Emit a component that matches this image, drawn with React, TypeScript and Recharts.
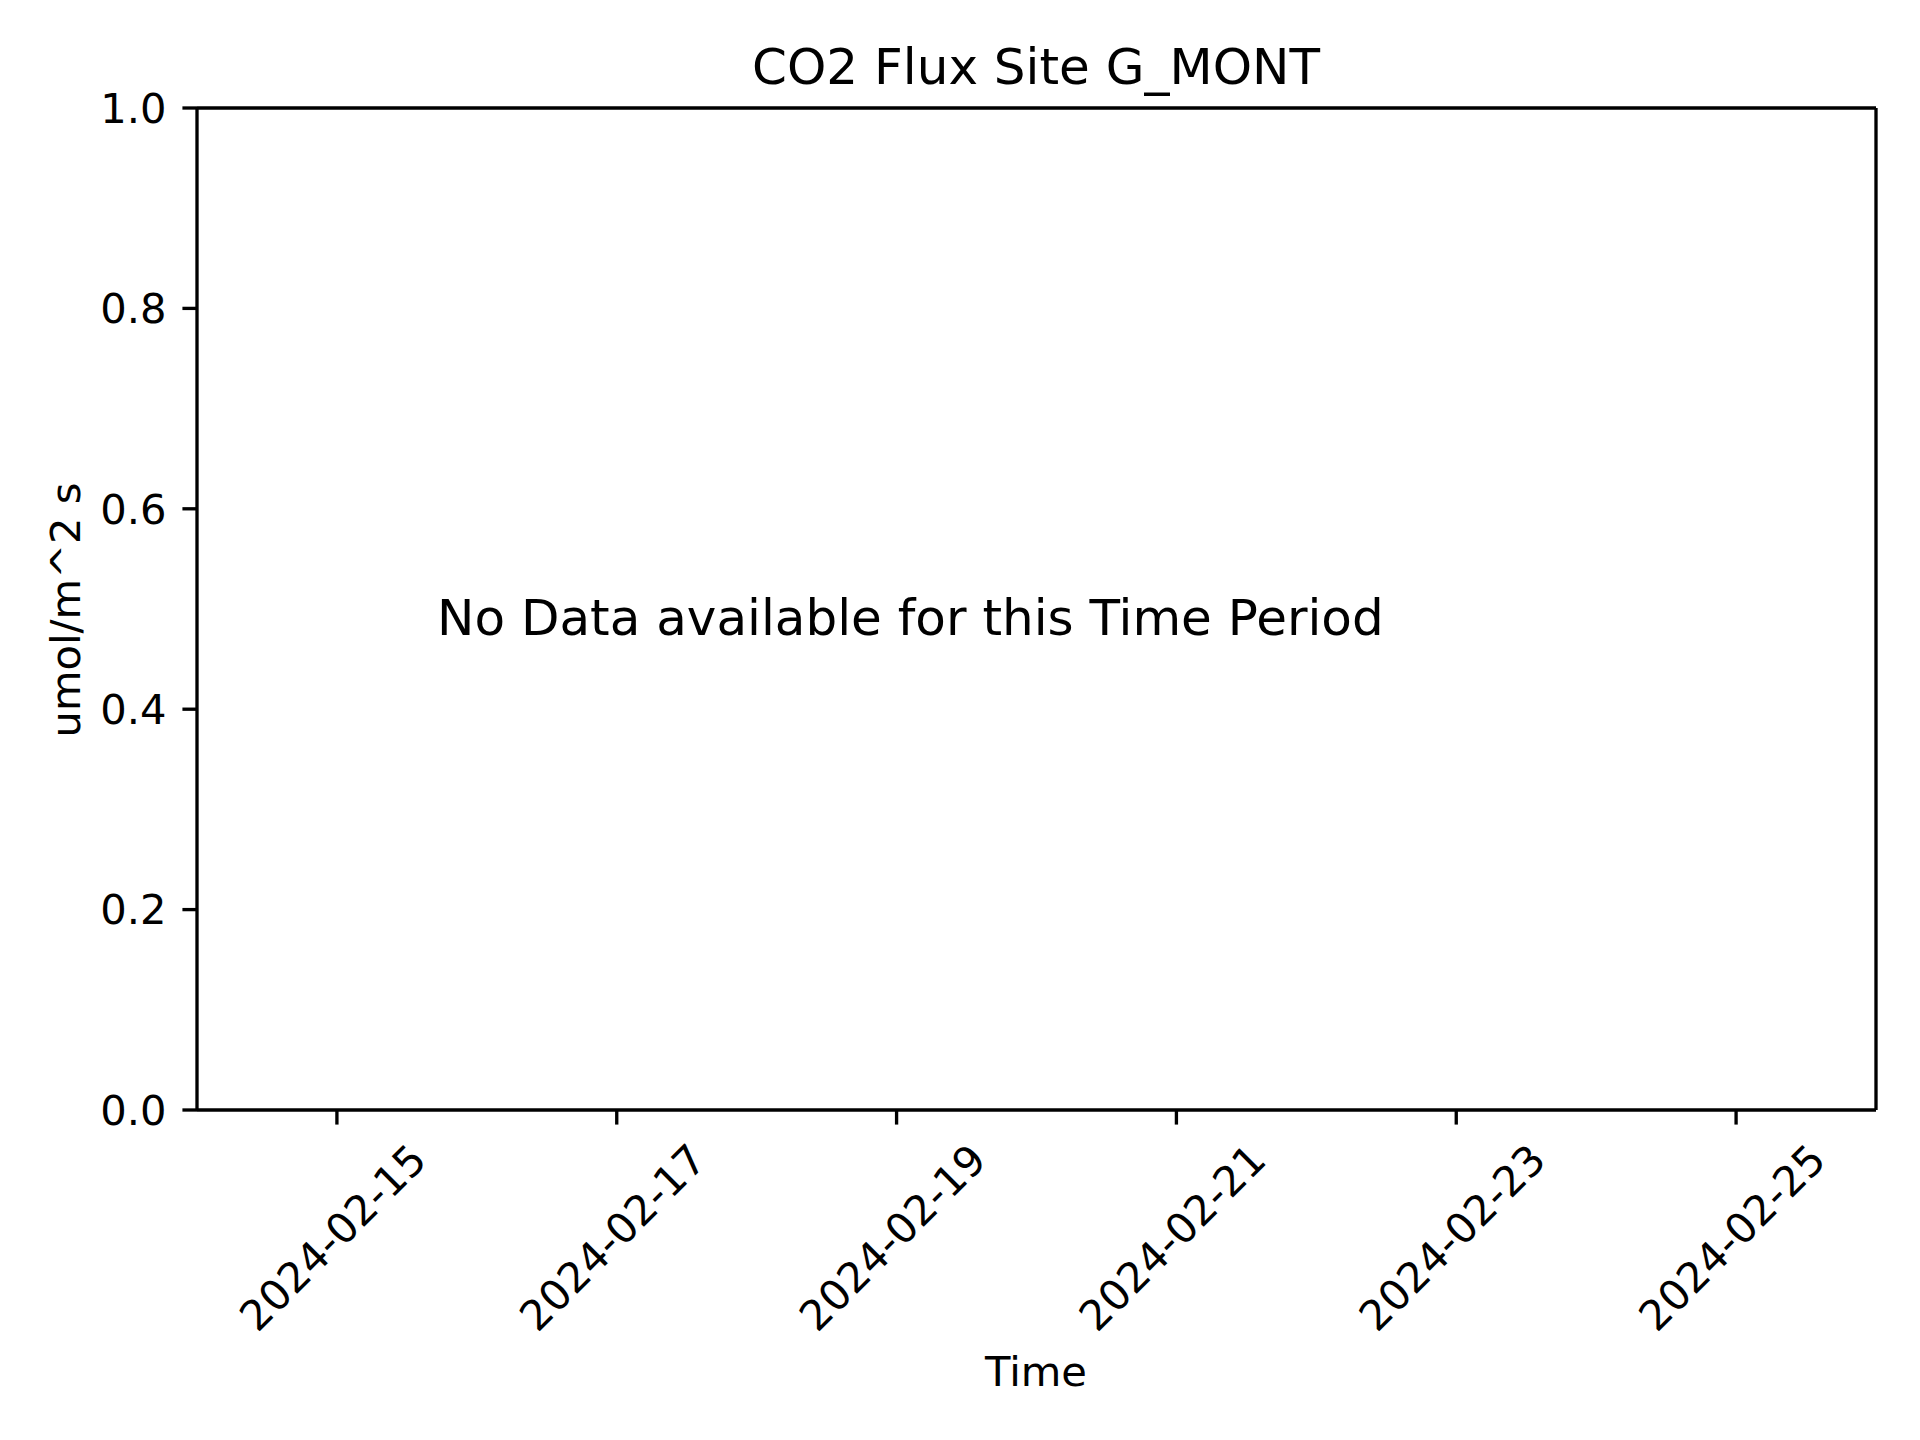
import { Customized, Line, LineChart, ReferenceLine, XAxis, YAxis } from 'recharts';

// Site G_MONT has no flux records for this window, so the series is all nulls
const startDate = Date.UTC(2024, 1, 14);
const endDate = Date.UTC(2024, 1, 26);

const tickDates = ['2024-02-15', '2024-02-17', '2024-02-19', '2024-02-21', '2024-02-23', '2024-02-25'];
const yTicks = [0, 0.2, 0.4, 0.6, 0.8, 1.0];
const fluxValues: (number | null)[] = [null, null, null, null, null, null];

const toTime = (s: string) => Date.parse(s + 'T00:00:00Z');

const data = tickDates.map((d, i) => ({ t: toTime(d), flux: fluxValues[i] }));

const W = 1920;
const H = 1440;
const PT = 300 / 72; // matplotlib figure at 300 dpi
const FONT = 'DejaVu Sans, sans-serif';
const LW = 0.8 * PT;

const axisLine = { stroke: '#000', strokeWidth: LW };

const XTick = (props: any) => {
  const { x, y, payload } = props;
  const d = new Date(payload.value).toISOString().slice(0, 10);
  const cx = x - 4;
  const cy = y + 113;
  return (
    <text
      x={cx}
      y={cy}
      textAnchor="middle"
      dominantBaseline="central"
      transform={`rotate(-45 ${cx} ${cy})`}
      fontFamily={FONT}
      fontSize={10 * PT}
      fill="#000"
    >
      {d}
    </text>
  );
};

const Texts = () => (
  <g fontFamily={FONT} fill="#000">
    <text x={1036} y={84} textAnchor="middle" fontSize={12 * PT}>
      CO2 Flux Site G_MONT
    </text>
    <text x={1036} y={1386} textAnchor="middle" fontSize={10 * PT}>
      Time
    </text>
    <text x={80} y={610} textAnchor="middle" fontSize={10 * PT} transform="rotate(-90 80 610)">
      umol/m^2 s
    </text>
    <text x={437} y={635} textAnchor="start" fontSize={12 * PT}>
      No Data available for this Time Period
    </text>
  </g>
);

export default function App() {
  return (
    <div style={{ width: W, height: H, margin: -8, background: '#fff' }}>
      <LineChart width={W} height={H} data={data} margin={{ top: 108, right: 44, bottom: 80, left: 77 }}>
        <XAxis
          dataKey="t"
          type="number"
          scale="time"
          domain={[startDate, endDate]}
          ticks={tickDates.map(toTime)}
          tick={<XTick />}
          tickSize={3.5 * PT}
          tickMargin={0}
          height={250}
          axisLine={axisLine}
          tickLine={axisLine}
          interval={0}
          allowDataOverflow
        />
        <YAxis
          domain={[0, 1]}
          ticks={yTicks}
          tickFormatter={(v: number) => v.toFixed(1)}
          tick={{ fill: '#000', fontFamily: FONT, fontSize: 10 * PT }}
          tickSize={3.5 * PT}
          tickMargin={16}
          width={120}
          axisLine={axisLine}
          tickLine={axisLine}
          interval={0}
          allowDataOverflow
        />
        {/* top and right spines */}
        <ReferenceLine y={1} stroke="#000" strokeWidth={LW} ifOverflow="visible" />
        <ReferenceLine x={endDate} stroke="#000" strokeWidth={LW} ifOverflow="visible" />
        <Line dataKey="flux" stroke="#1f77b4" strokeWidth={1.5 * PT} dot={false} isAnimationActive={false} />
        <Customized component={Texts} />
      </LineChart>
    </div>
  );
}
